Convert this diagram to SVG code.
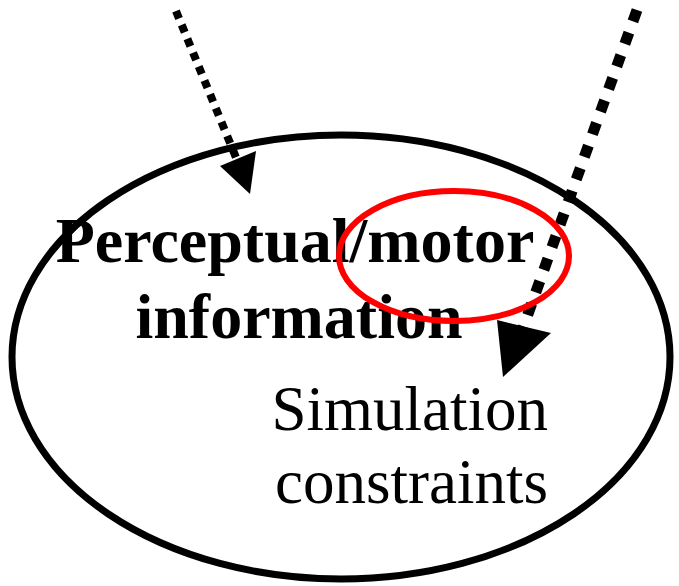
<svg xmlns="http://www.w3.org/2000/svg" width="679" height="586" viewBox="0 0 679 586">
<style>
.bold{font-family:"Liberation Serif","Times New Roman",serif;font-weight:bold;font-size:64px;fill:#000}
.reg{font-family:"Liberation Serif","Times New Roman",serif;font-size:63px;fill:#000}
</style>
<rect width="679" height="586" fill="#fff"/>
<g id="outer">
<ellipse cx="341" cy="357" rx="329" ry="222" fill="none" stroke="#000" stroke-width="7"/>
</g>
<g id="perceptual">
<text class="bold" x="295" y="262" text-anchor="middle">Perceptual/motor</text>
<text class="bold" x="299" y="338" text-anchor="middle">information</text>
</g>
<g id="simulation">
<text class="reg" x="548" y="430" text-anchor="end">Simulation</text>
<text class="reg" x="548" y="503" text-anchor="end">constraints</text>
</g>
<g id="connectors">
<line x1="176" y1="11" x2="237" y2="160" stroke="#000" stroke-width="8" stroke-dasharray="8 7"/>
<polygon points="250,194 220,166 256,151" fill="#000"/>
<line x1="637" y1="10" x2="523" y2="328" stroke="#000" stroke-width="11" stroke-dasharray="12 12"/>
<polygon points="503,377 497,320 551,333" fill="#000"/>
</g>
<g id="highlight">
<ellipse cx="454" cy="256" rx="115" ry="65" fill="none" stroke="#f00" stroke-width="6"/>
</g>
</svg>
